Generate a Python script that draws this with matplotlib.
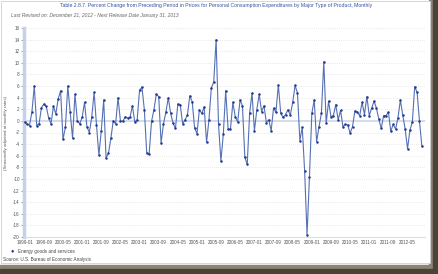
import numpy as np
import matplotlib.pyplot as plt
from matplotlib.patches import Rectangle

plt.rcParams['font.family'] = ['Liberation Sans', 'DejaVu Sans']

title = ("Table 2.8.7. Percent Change from Preceding Period in Prices for Personal "
         "Consumption Expenditures by Major Type of Product, Monthly")
subtitle = "Last Revised on: December 21, 2012 - Next Release Date January 31, 2013"
series_name = "Energy goods and services"
source = "Source: U.S. Bureau of Economic Analysis"
ylabel = "(Seasonally adjusted at monthly rates)"

# monthly values, 1999-01 .. 2012-11
energy = [
    -0.2, -0.5, -0.8, 1.5, 6.0, -0.8, -0.5, 2.3, 2.9, 2.5,
    0.5, -0.5, 2.5, 1.2, 3.8, 5.2, -3.2, -1.1, 6.0, 1.5,
    -3.0, 4.6, 0.0, -0.5, 0.6, 3.2, -1.0, -2.0, 0.6, 4.9,
    -0.7, -5.9, -1.7, 3.6, -6.4, -5.6, -3.0, 0.0, -0.5, 4.0,
    0.0, -0.1, 0.7, 0.5, 0.6, 2.6, -0.2, 0.2, 5.3, 5.8,
    1.9, -5.6, -5.7, -0.1, 1.9, 4.6, 4.2, -3.8, -0.5, 1.5,
    4.0, 1.3, -0.4, -1.3, 2.9, 2.8, -0.5, 0.2, 1.0, 4.3,
    3.3, -1.2, -2.2, 1.9, 1.3, 2.4, -3.7, 0.2, 5.7, 6.7,
    14.0, -0.6, -6.9, -2.3, 5.2, -1.4, -1.4, 3.2, 0.7, -0.2,
    3.6, 2.6, -6.3, -7.5, 1.3, 4.8, -1.7, 1.9, 4.6, 1.6,
    2.6, -0.3, 0.2, -1.7, 2.2, 1.5, 6.2, 1.3, 0.6, 1.1,
    1.9, 1.0, 3.2, 6.1, 4.8, -3.4, -1.1, -8.7, -19.6, -9.7,
    1.3, 3.6, -3.6, -1.0, 1.3, 10.2, -0.4, 3.4, 0.7, 0.9,
    2.8, 0.2, 1.8, -1.0, -0.6, -0.7, -2.1, -1.0, 1.7, 1.5,
    0.9, 3.2, 1.1, 4.2, 0.9, 2.2, 3.4, 2.2, 0.3, -1.3,
    0.9, 0.9, 1.5, -1.8, -0.6, -1.4, 0.5, 3.6, 1.0, -1.4,
    -4.8, -1.6, -0.2, 5.9, 4.9, -0.1, -4.4,
]

xtick_labels = ["1999-01", "1999-09", "2000-05", "2001-01", "2001-09", "2002-05",
                "2003-01", "2003-09", "2004-05", "2005-01", "2005-09", "2006-05",
                "2007-01", "2007-09", "2008-05", "2009-01", "2009-09", "2010-05",
                "2011-01", "2011-09", "2012-05"]
yticks = list(range(-20, 17, 2))

W, H = 439, 274
fig = plt.figure(figsize=(W / 100, H / 100), dpi=100)
fig.patch.set_facecolor('white')

# screenshot frame / shadow
fig.patches.append(Rectangle((429 / W, 0), 10 / W, 1, transform=fig.transFigure,
                             color='#8c8574', zorder=-4))
fig.patches.append(Rectangle((433 / W, 0), 6 / W, 1, transform=fig.transFigure,
                             color='#4a4437', zorder=-3))
fig.patches.append(Rectangle((0, 0), 1, 9 / H, transform=fig.transFigure,
                             color='#8c8574', zorder=-4))
fig.patches.append(Rectangle((0, 0), 1, 5 / H, transform=fig.transFigure,
                             color='#4a4437', zorder=-3))
fig.patches.append(Rectangle((1 / W, 11 / H), 429 / W, 262 / H, transform=fig.transFigure,
                             facecolor='white', edgecolor='#d0d0d0', lw=0.6, zorder=-2))

ax = fig.add_axes([24 / W, 1 - 237 / H, 401 / W, 209 / H])
ax.set_zorder(5)
ax.set_facecolor('none')
x = np.arange(len(energy))
ax.set_xlim(-0.3, 167.3)
ax.set_ylim(-20, 16)

for v in yticks:
    if v == 0:
        continue
    ax.axhline(v, color='#d2d2d2', lw=0.5, ls=(0, (1, 2)), zorder=1)
ax.axhline(0, color='#c9d5ea', lw=1.2, zorder=1)

ax.plot(x, energy, color='#5570b6', lw=0.8, zorder=3)
ax.plot(x, energy, ls='none', marker='o', ms=0.8, color='#223a8c', zorder=4)

for s in ['top', 'right']:
    ax.spines[s].set_visible(False)
ax.spines['left'].set_color('#c3d1ea')
ax.spines['left'].set_linewidth(2.5)
ax.spines['bottom'].set_color('#d5dde9')
ax.spines['bottom'].set_linewidth(0.8)

ax.set_yticks(yticks)
ax.set_yticklabels([str(v) for v in yticks])
ax.set_xticks(np.arange(0, len(xtick_labels) * 8, 8))
ax.set_xticklabels(xtick_labels)
ax.tick_params(axis='y', labelsize=3.3, colors='#555555', length=2, width=0.4, pad=1)
ax.tick_params(axis='x', labelsize=3.3, colors='#555555', length=0, pad=2.5)

fig.text(6 / W, 1 - 133 / H, ylabel, rotation=90, fontsize=3.2, color='#555555',
         ha='center', va='center')
fig.text(216 / W, 1 - 6 / H, title, fontsize=3.7, color='#3650a0', ha='center', va='center')
fig.text(11 / W, 1 - 16 / H, subtitle, fontsize=3.6, color='#666666', style='italic',
         ha='left', va='center')

fig.text(12 / W, 1 - 251 / H, u'\u25cf', fontsize=4, color='#1a2a8a', ha='center', va='center')
fig.text(18 / W, 1 - 251 / H, series_name, fontsize=3.3, color='#444444', ha='left', va='center')
fig.text(3 / W, 1 - 259 / H, source, fontsize=3.3, color='#444444', ha='left', va='center')

fig.savefig('out.png', dpi=100)
